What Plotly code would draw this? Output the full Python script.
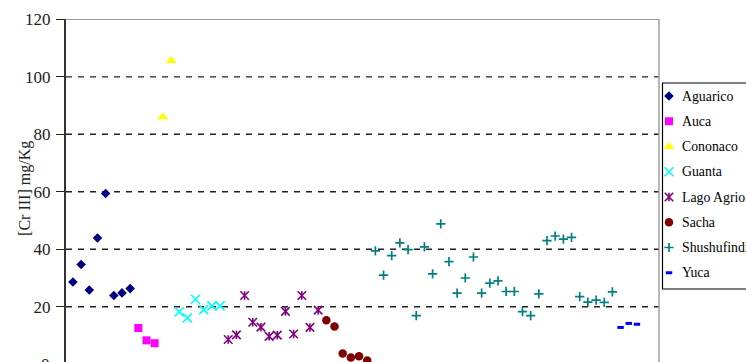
import plotly.graph_objects as go

# Chromium (III) concentration per sample, grouped by oil field
site_names = ["Aguarico", "Auca", "Cononaco", "Guanta", "Lago Agrio",
              "Sacha", "Shushufindi", "Yuca"]

aguarico = [28.6, 34.7, 25.8, 43.9, 59.4, 23.9, 24.8, 26.3]
auca = [12.6, 8.3, 7.3]
cononaco = [86.0, 105.6]
guanta = [18.2, 16.1, 22.6, 19.0, 20.3, 20.3]
lago_agrio = [8.6, 10.2, 23.9, 14.6, 12.9, 9.7, 10.1, 18.4, 10.5, 23.9, 12.8, 18.8]
sacha = [15.3, 13.1, 3.7, 2.3, 2.8, 1.3]
shushufindi = [39.4, 31.0, 37.8, 42.2, 39.9, 16.9, 40.8, 31.4, 48.8, 35.7,
               24.7, 30.0, 37.3, 24.7, 28.2, 29.0, 25.3, 25.3, 18.3, 16.9,
               24.5, 43.0, 44.6, 43.5, 44.1, 23.5, 21.6, 22.3, 21.5, 25.2]
yuca = [12.8, 14.2, 13.9]

series_values = [aguarico, auca, cononaco, guanta, lago_agrio, sacha, shushufindi, yuca]

y_ticks = [0, 20, 40, 60, 80, 100, 120]
grid_values = [20, 40, 60, 80, 100]

# marker styling per field
colors = ["#000080", "#FF00FF", "#FFFF00", "#00FFFF", "#800080", "#800000", "#008080", "#0000FF"]
symbols = ["diamond", "square", "triangle-up", "x-thin-open", "x-thin-open",
           "circle", "cross-thin-open", "line-ew-open"]
sizes = [7.4, 8, 9.5, 9, 8.5, 8.5, 6.6, 4.6]
line_widths = [0, 0, 0, 1.6, 1.6, 0, 1.7, 3]

SERIF = "Liberation Serif"
INK = "#222222"

fig = go.Figure()


def marker_style(k, symbol=None, size=None):
    return dict(symbol=symbol or symbols[k], size=size or sizes[k], color=colors[k],
                line=dict(color=colors[k], width=line_widths[k]))


# data points, numbered consecutively across fields
start = 1
for k, vals in enumerate(series_values):
    xs = list(range(start, start + len(vals)))
    start += len(vals)
    fig.add_trace(go.Scatter(x=xs, y=vals, mode="markers", name=site_names[k],
                             marker=marker_style(k), showlegend=False))
    if site_names[k] == "Lago Agrio":
        # vertical stroke that turns the x into a star marker
        fig.add_trace(go.Scatter(x=xs, y=vals, mode="markers", showlegend=False,
                                 marker=marker_style(k, "line-ns-open", sizes[k] / 1.4)))

# legend box drawn on a pixel-scaled overlay axis pair
LEG_X_SYM, LEG_X_TXT, LEG_Y0, LEG_DY = 669, 680, 96, 25.25
for k, name in enumerate(site_names):
    yk = LEG_Y0 + LEG_DY * k
    fig.add_trace(go.Scatter(x=[LEG_X_SYM], y=[yk], mode="markers", xaxis="x2", yaxis="y2",
                             marker=marker_style(k), showlegend=False, cliponaxis=False))
    if name == "Lago Agrio":
        fig.add_trace(go.Scatter(x=[LEG_X_SYM], y=[yk], mode="markers", xaxis="x2", yaxis="y2",
                                 marker=marker_style(k, "line-ns-open", sizes[k] / 1.4),
                                 showlegend=False, cliponaxis=False))
    fig.add_annotation(x=LEG_X_TXT, y=yk, xref="x2", yref="y2", text=name, showarrow=False,
                       xanchor="left", yanchor="middle",
                       font=dict(family=SERIF, size=13.8, color="#000000"))

shapes = []
for g in grid_values:
    shapes.append(dict(type="line", xref="x domain", yref="y", x0=0, x1=1, y0=g, y1=g,
                       line=dict(color=INK, width=1.3, dash="6px,6px"), layer="below"))
# top and right frame of the plot area
shapes.append(dict(type="line", xref="x domain", yref="y", x0=0, x1=1, y0=120, y1=120,
                   line=dict(color="#9a9a9a", width=1.4)))
shapes.append(dict(type="line", xref="x domain", yref="paper", x0=1, x1=1, y0=0, y1=1,
                   line=dict(color="#9a9a9a", width=1.4)))
# legend frame
shapes.append(dict(type="rect", xref="x2", yref="y2", x0=662.5, x1=800, y0=83, y1=289,
                   line=dict(color="#000000", width=1.2)))

fig.update_layout(
    width=746, height=362,
    margin=dict(l=66, r=0, t=19, b=0, autoexpand=False),
    paper_bgcolor="white", plot_bgcolor="rgba(0,0,0,0)",
    showlegend=False,
    shapes=shapes,
    xaxis=dict(domain=[0, 593 / 680], range=[0.15, 72.7], visible=False),
    yaxis=dict(range=[0.77, 120.1], tickvals=y_ticks, showgrid=False, zeroline=False,
               showline=True, linecolor="#333333", linewidth=2,
               ticks="outside", ticklen=8, tickwidth=1.3, tickcolor=INK,
               ticklabelstandoff=2,
               tickfont=dict(family=SERIF, size=17, color=INK)),
    xaxis2=dict(domain=[0, 1], range=[66, 746], anchor="y2", visible=False),
    yaxis2=dict(domain=[0, 1], range=[362, 19], anchor="x2", visible=False),
)

# y-axis title and the partly visible zero label at the bottom edge
fig.add_annotation(x=0, xref="paper", xshift=-41, y=61, yref="y", text="[Cr III] mg/Kg",
                   textangle=-90, showarrow=False, xanchor="center", yanchor="middle",
                   font=dict(family=SERIF, size=16, color=INK))
fig.add_annotation(x=0, xref="paper", xshift=-14, y=0, yref="paper", yshift=-2.2, text="0",
                   showarrow=False, xanchor="right", yanchor="middle",
                   font=dict(family=SERIF, size=17, color=INK))

fig.write_html("out.html")
